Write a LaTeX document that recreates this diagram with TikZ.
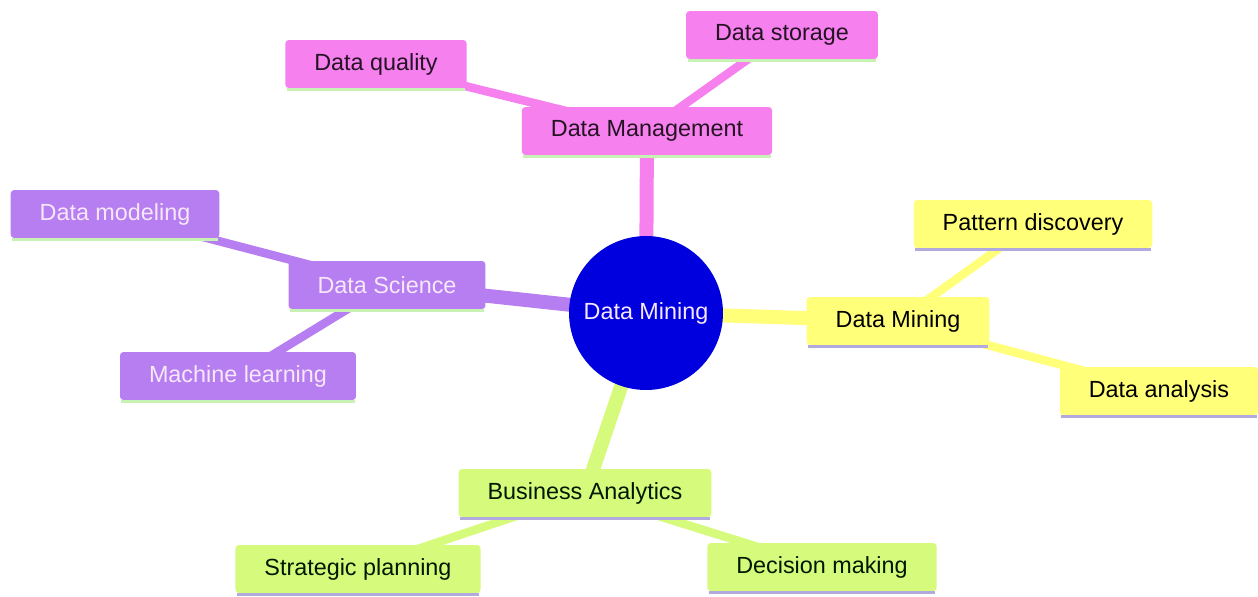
\documentclass[tikz,border=0pt]{standalone}
\usepackage{fontspec}
\setmainfont{Liberation Sans}
\usetikzlibrary{backgrounds}
\definecolor{mgpink}{RGB}{245,128,238}
\definecolor{mgpurple}{RGB}{182,126,240}
\definecolor{mgyellow}{RGB}{255,255,122}
\definecolor{mggreen}{RGB}{214,250,124}
\definecolor{mgblue}{RGB}{0,0,222}
\definecolor{edgegreen}{RGB}{200,242,180}
\definecolor{edgelav}{RGB}{176,170,222}
\definecolor{palelav}{RGB}{246,232,250}
\tikzset{
  topic/.style={rectangle,rounded corners=2pt,inner xsep=0.58cm,inner ysep=0pt,minimum height=0.96cm,font=\fontsize{13.3}{16}\selectfont},
  pinkbox/.style={topic,fill=mgpink,text=black!85!mgpink},
  purplebox/.style={topic,fill=mgpurple,text=palelav},
  yellowbox/.style={topic,fill=mgyellow,text=black},
  greenbox/.style={topic,fill=mggreen,text=black!90!green},
  hub/.style={circle,fill=mgblue,text=palelav,minimum size=3.08cm,inner sep=0pt,font=\fontsize{13.3}{16}\selectfont},
  mainlink/.style={line width=0.28cm},
  sublink/.style={line width=0.17cm},
}
\begin{document}
\begin{tikzpicture}[x=0.02cm,y=-0.02cm]
        \useasboundingbox(0,0)rectangle(1258,596);
        % centre
        \node[hub](core)at(646,313){Data Mining};
        % pink branch
        \node[pinkbox](mgmt)at(647,131){Data Management};
        \node[pinkbox](quality)at(376,64){Data quality};
        \node[pinkbox](storage)at(782,35){Data storage};
        % purple branch
        \node[purplebox](science)at(387,285){Data Science};
        \node[purplebox](modeling)at(115,214){Data modeling};
        \node[purplebox](learning)at(238,376){Machine learning};
        % yellow branch
        \node[yellowbox](mining)at(898,321){Data Mining};
        \node[yellowbox](pattern)at(1033,224){Pattern discovery};
        \node[yellowbox](analysis)at(1159,391){Data analysis};
        % green branch
        \node[greenbox](business)at(585,493){Business Analytics};
        \node[greenbox](strategic)at(358,569){Strategic planning};
        \node[greenbox](decision)at(822,567){Decision making};
        \begin{scope}[on background layer]
        \draw[mainlink,mgpink](core.center)--(mgmt.center);
        \draw[sublink,mgpink](mgmt.center)--(quality.center);
        \draw[sublink,mgpink](mgmt.center)--(storage.center);
        \draw[mainlink,mgpurple](core.center)--(science.center);
        \draw[sublink,mgpurple](science.center)--(modeling.center);
        \draw[sublink,mgpurple](science.center)--(learning.center);
        \draw[mainlink,mgyellow](core.center)--(mining.center);
        \draw[sublink,mgyellow](mining.center)--(pattern.center);
        \draw[sublink,mgyellow](mining.center)--(analysis.center);
        \draw[mainlink,mggreen](core.center)--(business.center);
        \draw[sublink,mggreen](business.center)--(strategic.center);
        \draw[sublink,mggreen](business.center)--(decision.center);
        \end{scope}
        % bottom edges
        \foreach \n in {mgmt,quality,storage,science,modeling,learning}
        \draw[edgegreen,line width=0.06cm]([xshift=1pt,yshift=-0.6pt]\n.south west)--([xshift=-1pt,yshift=-0.6pt]\n.south east);
        \foreach \n in {mining,pattern,analysis,business,strategic,decision}
        \draw[edgelav,line width=0.06cm]([xshift=1pt,yshift=-0.6pt]\n.south west)--([xshift=-1pt,yshift=-0.6pt]\n.south east);
    \end{tikzpicture}
\end{document}
